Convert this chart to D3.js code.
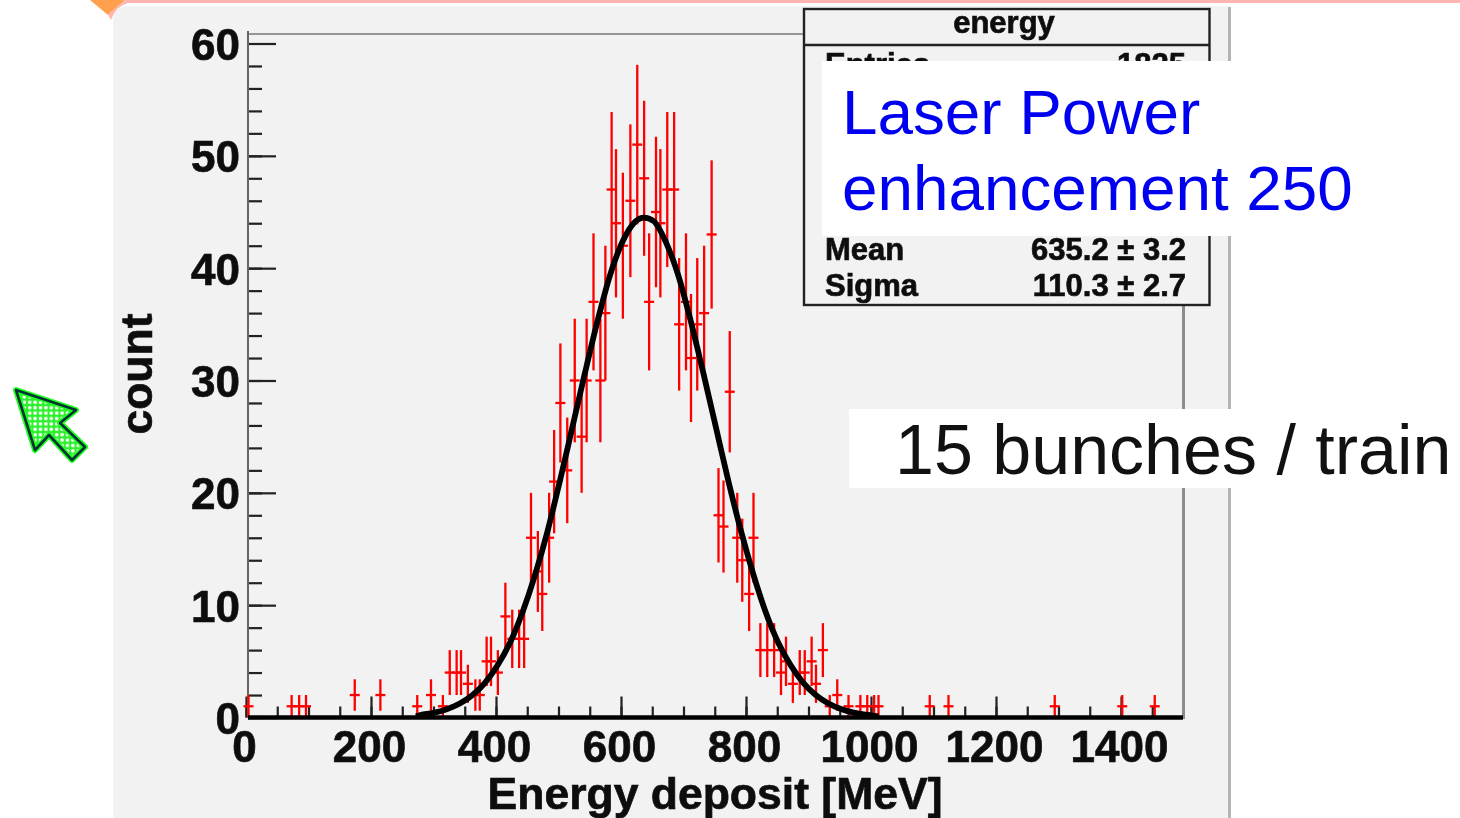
<!DOCTYPE html>
<html>
<head>
<meta charset="utf-8">
<title>energy</title>
<script src="https://cdn.jsdelivr.net/npm/d3@7"></script>
<style>
    html, body { margin: 0; background: #fff; }
    svg { display: block; }
    text { font-family: "Liberation Sans", Arial, sans-serif; }
    .heavy text, text.heavy { stroke: #111; stroke-width: 0.7px; }
</style>
</head>
<body>
<div id="chart"></div>
<script>
// Histogram points: bin position, count, error bar
const energyBins = [
    4, 73, 85, 96, 174, 215, 274, 296, 315, 326, 337, 344, 355, 367, 374, 385, 392, 403, 415, 426,
    437, 445, 456, 467, 474, 485, 493, 503, 514, 526, 537, 545, 556, 567, 575, 585, 592, 603, 615, 626,
    637, 645, 656, 663, 674, 685, 693, 704, 712, 722, 733, 745, 756, 764, 774, 786, 794, 805, 812, 823,
    834, 845, 856, 864, 875, 886, 894, 905, 912, 923, 934, 946, 964, 983, 994, 1005, 1012, 1094, 1124,
    1294, 1402, 1454
];
const counts = [
    1, 1, 1, 1, 2, 2, 1, 2, 1, 4, 4, 4, 3, 2, 2, 5, 5, 4, 9, 7,
    7, 7, 16, 13, 11, 16, 21, 28, 22, 30, 25, 30, 37, 30, 36, 47, 44, 42, 46, 51,
    48, 37, 45, 44, 47, 47, 35, 37, 32, 35, 36, 43, 18, 17, 29, 16, 14, 11, 16, 6,
    6, 6, 4, 5, 3, 4, 4, 5, 3, 6, 1, 2, 1, 1, 1, 1, 1, 1, 1,
    1, 1, 1
];
const countErrors = [
    1, 1, 1, 1, 1.4, 1.4, 1, 1.4, 1, 2, 2, 2, 1.7, 1.4, 1.4, 2.2, 2.2, 2, 3, 2.6,
    2.6, 2.6, 4, 3.6, 3.3, 4, 4.6, 5.3, 4.7, 5.5, 5, 5.5, 6.1, 5.5, 6, 6.9, 6.6, 6.5, 6.8, 7.1,
    6.9, 6.1, 6.7, 6.6, 6.9, 6.9, 5.9, 6.1, 5.7, 5.9, 6, 6.6, 4.2, 4.1, 5.4, 4, 3.7, 3.3, 4, 2.4,
    2.4, 2.4, 2, 2.2, 1.7, 2, 2, 2.2, 1.7, 2.4, 1, 1.4, 1, 1, 1, 1, 1, 1, 1,
    1, 1, 1
];

// Black fit curve
const fitEnergy = [
    272, 282, 302, 322, 342, 362, 382, 402, 422, 442, 462, 482, 502, 522, 542, 562, 582, 602, 622, 637,
    652, 672, 692, 712, 732, 752, 772, 792, 812, 832, 852, 872, 892, 912, 932, 952, 972, 992, 1012
];
const fitCount = [
    0.1, 0.25, 0.44, 0.75, 1.24, 1.98, 3.06, 4.6, 6.6, 9.3, 12.6, 16.5, 21, 25.8, 30.6, 35.2, 39.3, 42.3, 44.1, 44.5,
    44.2, 42.3, 39.3, 35.2, 30.6, 25.8, 21, 16.6, 12.7, 9.3, 6.6, 4.6, 3.06, 1.98, 1.25, 0.76, 0.44, 0.25, 0.1
];

const xMajorTicks = [0, 200, 400, 600, 800, 1000, 1200, 1400];
const yMajorTicks = [0, 10, 20, 30, 40, 50, 60];
const statsRows = [
    { label: 'Entries', value: '1825', baseline: 75 },
    { label: 'Mean', value: '635.2 ± 3.2', baseline: 260 },
    { label: 'Sigma', value: '110.3 ± 2.7', baseline: 296 }
];

const width = 1460;
const height = 818;

const x = d3.scaleLinear().domain([0, 1500]).range([246, 1183.5]);
const y = d3.scaleLinear().domain([0, 60]).range([717.5, 43.5]);

const svg = d3.select('#chart')
    .append('svg')
    .attr('width', width)
    .attr('height', height);

const defs = svg.append('defs');

// The source is an upscaled bitmap, so the plot gets a slight blur
defs.append('filter')
    .attr('id', 'soft')
    .attr('filterUnits', 'userSpaceOnUse')
    .attr('x', 0).attr('y', 0)
    .attr('width', width).attr('height', height)
    .append('feGaussianBlur')
    .attr('stdDeviation', 0.7);

const dots = defs.append('pattern')
    .attr('id', 'dots')
    .attr('patternUnits', 'userSpaceOnUse')
    .attr('width', 5.4)
    .attr('height', 5.4);
dots.append('rect').attr('width', 5.4).attr('height', 5.4).attr('fill', '#2cf02c');
dots.append('circle').attr('cx', 2.7).attr('cy', 2.7).attr('r', 1.9).attr('fill', '#f4fff4');

// Slide furniture behind the plot
svg.append('path')
    .attr('d', 'M90,0 L125,0 L108,15 Z')
    .attr('fill', '#ffa04f');
svg.append('path')
    .attr('d', 'M111,20 Q116,6 128,3 L1460,3 L1460,0 L125,0 L108,15 Z')
    .attr('fill', '#ffb4b0');
svg.append('path')
    .attr('d', 'M113,818 V22 Q113,6 129,6 H1229 V818 Z')
    .attr('fill', '#f2f2f2');
svg.append('line')
    .attr('x1', 1229.5).attr('x2', 1229.5)
    .attr('y1', 7).attr('y2', height)
    .attr('stroke', '#b4b4b4')
    .attr('stroke-width', 3);

const plot = svg.append('g').attr('class', 'heavy').attr('filter', 'url(#soft)');

// Frame
plot.append('line')
    .attr('x1', 247).attr('x2', 806)
    .attr('y1', 34).attr('y2', 34)
    .attr('stroke', '#777')
    .attr('stroke-width', 1.5);
plot.append('line')
    .attr('x1', 1183.5).attr('x2', 1183.5)
    .attr('y1', 34).attr('y2', 719)
    .attr('stroke', '#8c8c8c')
    .attr('stroke-width', 3);

// Axes, ticks point into the plot
const xMinor = plot.append('g')
    .attr('transform', `translate(0,${y(0)})`)
    .call(d3.axisBottom(x).tickValues(d3.range(0, 1500, 50)).tickSize(-11).tickFormat(''));
const xMajor = plot.append('g')
    .attr('transform', `translate(0,${y(0)})`)
    .call(d3.axisBottom(x).tickValues(xMajorTicks).tickSize(-21).tickPadding(13).tickFormat(d3.format('d')));
const yMinor = plot.append('g')
    .attr('transform', 'translate(248,0)')
    .call(d3.axisLeft(y).tickValues(d3.range(0, 60, 2)).tickSize(-14).tickFormat(''));
const yMajor = plot.append('g')
    .attr('transform', 'translate(248,0)')
    .call(d3.axisLeft(y).tickValues(yMajorTicks).tickSize(-28).tickPadding(8));

[xMinor, xMajor, yMinor, yMajor].forEach(axis => {
    axis.select('.domain').remove();
    axis.selectAll('line').attr('stroke', '#222').attr('stroke-width', 2.2);
});

xMajor.selectAll('text')
    .attr('dx', -2)
    .style('font-size', '44px')
    .style('font-weight', 'bold')
    .attr('fill', '#111');
yMajor.selectAll('text')
    .attr('dy', '0.36em')
    .style('font-size', '44px')
    .style('font-weight', 'bold')
    .attr('fill', '#111');

plot.append('line')
    .attr('x1', 248).attr('x2', 248)
    .attr('y1', 31).attr('y2', y(0))
    .attr('stroke', '#666')
    .attr('stroke-width', 2);

// Error bars
const points = energyBins.map((e, i) => ({ energy: e, count: counts[i], err: countErrors[i] }));
const bars = plot.append('g').attr('stroke', '#ff0000').attr('stroke-width', 2.3);

bars.selectAll('.ebar')
    .data(points)
    .join('line')
    .attr('class', 'ebar')
    .attr('x1', d => x(d.energy))
    .attr('x2', d => x(d.energy))
    .attr('y1', d => y(d.count - d.err))
    .attr('y2', d => y(d.count + d.err));

bars.selectAll('.ecap')
    .data(points)
    .join('line')
    .attr('class', 'ecap')
    .attr('x1', d => x(d.energy - 8))
    .attr('x2', d => x(d.energy + 8))
    .attr('y1', d => y(d.count))
    .attr('y2', d => y(d.count));

// Fit curve
const fitLine = d3.line()
    .x((d, i) => x(fitEnergy[i]))
    .y(d => y(d))
    .curve(d3.curveMonotoneX);

plot.append('path')
    .datum(fitCount)
    .attr('d', fitLine)
    .attr('fill', 'none')
    .attr('stroke', '#000')
    .attr('stroke-width', 5.8);

// Thick zero line
plot.append('line')
    .attr('x1', 248).attr('x2', 1183)
    .attr('y1', y(0)).attr('y2', y(0))
    .attr('stroke', '#000')
    .attr('stroke-width', 4.4);

// Axis titles
plot.append('text')
    .attr('x', 715)
    .attr('y', 809)
    .attr('text-anchor', 'middle')
    .style('font-size', '44.5px')
    .style('font-weight', 'bold')
    .attr('fill', '#111')
    .text('Energy deposit [MeV]');

plot.append('text')
    .attr('transform', 'translate(152,374) rotate(-90)')
    .attr('text-anchor', 'middle')
    .style('font-size', '44.5px')
    .style('font-weight', 'bold')
    .attr('fill', '#111')
    .text('count');

// Stats box
plot.append('rect')
    .attr('x', 804).attr('y', 9)
    .attr('width', 405.5).attr('height', 296)
    .attr('fill', '#f2f2f2')
    .attr('stroke', '#222')
    .attr('stroke-width', 2.4);
plot.append('line')
    .attr('x1', 804).attr('x2', 1209.5)
    .attr('y1', 45).attr('y2', 45)
    .attr('stroke', '#222')
    .attr('stroke-width', 2.4);
plot.append('text')
    .attr('x', 1004)
    .attr('y', 33)
    .attr('text-anchor', 'middle')
    .style('font-size', '31px')
    .style('font-weight', 'bold')
    .attr('fill', '#111')
    .text('energy');

const statRow = plot.selectAll('.stat')
    .data(statsRows)
    .join('g')
    .attr('class', 'stat')
    .style('font-size', '31px')
    .style('font-weight', 'bold')
    .attr('fill', '#111');
statRow.append('text')
    .attr('x', 825)
    .attr('y', d => d.baseline)
    .text(d => d.label);
statRow.append('text')
    .attr('x', 1186)
    .attr('y', d => d.baseline)
    .attr('text-anchor', 'end')
    .text(d => d.value);

// Pasted labels on top of the plot
svg.append('rect')
    .attr('x', 822).attr('y', 61)
    .attr('width', 638).attr('height', 175)
    .attr('fill', '#fff');
svg.append('rect')
    .attr('x', 849).attr('y', 409)
    .attr('width', 611).attr('height', 79)
    .attr('fill', '#fff');

svg.append('text')
    .attr('x', 842).attr('y', 133.5)
    .style('font-size', '63.8px')
    .attr('fill', '#0000f0')
    .text('Laser Power');
svg.append('text')
    .attr('x', 842).attr('y', 209.5)
    .style('font-size', '63.8px')
    .attr('fill', '#0000f0')
    .text('enhancement 250');
svg.append('text')
    .attr('x', 895).attr('y', 474)
    .style('font-size', '70px')
    .attr('fill', '#111')
    .text('15 bunches / train');

// Green cursor arrow
const arrowOutline = [[16, 390], [76, 410], [60, 423], [85, 447], [72, 460], [49, 435], [35, 450]];
const arrowPath = d3.line()(arrowOutline) + 'Z';
svg.append('path')
    .attr('d', arrowPath)
    .attr('fill', 'url(#dots)')
    .attr('stroke', '#1fff1f')
    .attr('stroke-width', 6)
    .attr('stroke-linejoin', 'round');
svg.append('path')
    .attr('d', arrowPath)
    .attr('fill', 'none')
    .attr('stroke', '#033')
    .attr('stroke-width', 2.6)
    .attr('stroke-linejoin', 'round');
</script>
</body>
</html>
